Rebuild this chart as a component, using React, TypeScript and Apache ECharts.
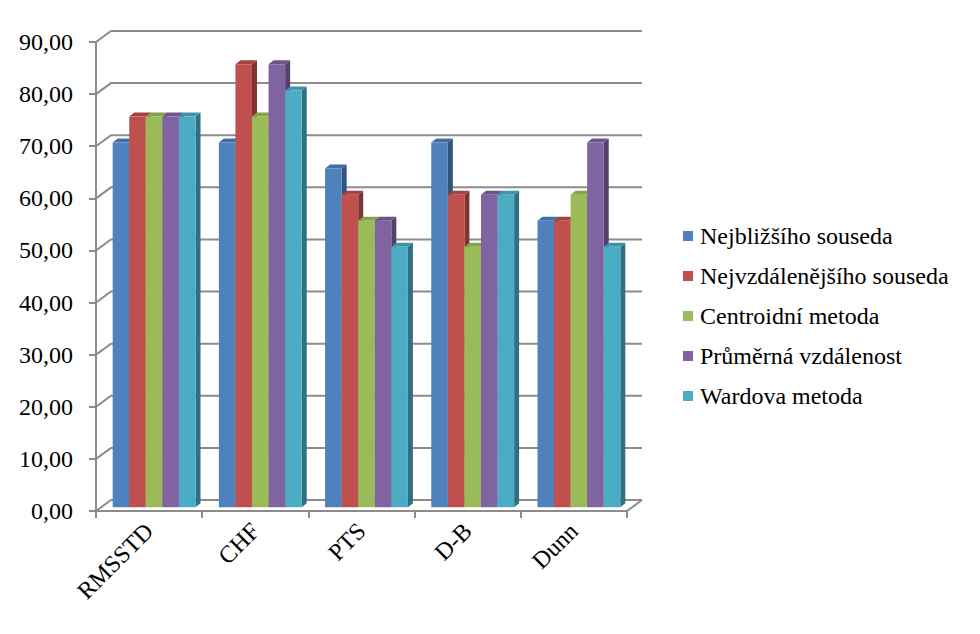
import React, { useEffect, useRef } from "react";
import * as echarts from "echarts";

const categories = ["RMSSTD", "CHF", "PTS", "D-B", "Dunn"];
const seriesNames = [
  "Nejbližšího souseda",
  "Nejvzdálenějšího souseda",
  "Centroidní metoda",
  "Průměrná vzdálenost",
  "Wardova metoda",
];
const nejblizsiSouseda = [70, 70, 65, 70, 55];
const nejvzdalenejsihoSouseda = [75, 85, 60, 60, 55];
const centroidniMetoda = [75, 75, 55, 50, 60];
const prumernaVzdalenost = [75, 85, 55, 60, 70];
const wardovaMetoda = [75, 80, 50, 60, 50];
const yTicks = [0, 10, 20, 30, 40, 50, 60, 70, 80, 90];

const seriesValues = [
  nejblizsiSouseda,
  nejvzdalenejsihoSouseda,
  centroidniMetoda,
  prumernaVzdalenost,
  wardovaMetoda,
];

const frontColors = ["#4F81BD", "#C0504D", "#9BBB59", "#8064A2", "#4BACC6"];
const topColors = ["#426ea3", "#a54341", "#86a24c", "#6d5589", "#4094aa"];
const sideColors = ["#33547b", "#7d3432", "#657a3a", "#534169", "#317081"];

const FONT = "Liberation Serif";
const LINE = "#8c8c8c";
const WALL_DX = 15;
const WALL_DY = -11;
const BAR_DX = 5;
const BAR_DY = -4;

export default function App() {
  const ref = useRef<HTMLDivElement>(null);

  useEffect(() => {
    if (!ref.current) return;
    const chart = echarts.init(ref.current, null, { renderer: "svg" });

    const frameSeries = {
      type: "custom",
      name: "frame",
      silent: true,
      clip: false,
      z: 1,
      data: yTicks.map((v) => [0, v]),
      encode: { x: 0, y: 1 },
      renderItem: (params: any, api: any) => {
        const v = api.value(1);
        const bw = api.size([1, 0])[0];
        const p0 = api.coord([0, v]);
        const p1 = api.coord([categories.length - 1, v]);
        const x0 = p0[0] - bw / 2;
        const x1 = p1[0] + bw / 2;
        const y = p0[1];
        const children: any[] = [
          {
            type: "polyline",
            shape: {
              points: [
                [x0, y],
                [x0 + WALL_DX, y + WALL_DY],
                [x1 + WALL_DX, y + WALL_DY],
              ],
            },
            style: { stroke: LINE, lineWidth: 2, fill: "none" },
          },
        ];
        if (v === 0) {
          children.push({
            type: "line",
            shape: { x1: x1, y1: y, x2: x1 + WALL_DX, y2: y + WALL_DY },
            style: { stroke: LINE, lineWidth: 2 },
          });
        }
        return { type: "group", children };
      },
    };

    const barSeries = seriesNames.map((name, k) => ({
      type: "custom",
      name,
      clip: false,
      z: 2,
      itemStyle: { color: frontColors[k] },
      data: seriesValues[k].map((v, i) => [i, v]),
      encode: { x: 0, y: 1 },
      renderItem: (params: any, api: any) => {
        const ci = api.value(0);
        const val = api.value(1);
        const top = api.coord([ci, val]);
        const base = api.coord([ci, 0]);
        const bw = api.size([1, 0])[0];
        const barW = bw * 0.156;
        const shiftX = bw * 0.047;
        const shiftY = -3.7;
        const x = top[0] + shiftX - 2.5 * barW + k * barW;
        const yTop = top[1] + shiftY;
        const yBot = base[1] + shiftY;
        return {
          type: "group",
          children: [
            {
              type: "polygon",
              shape: {
                points: [
                  [x + barW, yTop],
                  [x + barW + BAR_DX, yTop + BAR_DY],
                  [x + barW + BAR_DX, yBot + BAR_DY],
                  [x + barW, yBot],
                ],
              },
              style: { fill: sideColors[k] },
            },
            {
              type: "polygon",
              shape: {
                points: [
                  [x, yTop],
                  [x + BAR_DX, yTop + BAR_DY],
                  [x + barW + BAR_DX, yTop + BAR_DY],
                  [x + barW, yTop],
                ],
              },
              style: { fill: topColors[k] },
            },
            {
              type: "rect",
              shape: { x, y: yTop, width: barW, height: yBot - yTop },
              style: { fill: frontColors[k] },
            },
          ],
        };
      },
    }));

    chart.setOption({
      animation: false,
      backgroundColor: "#ffffff",
      textStyle: { fontFamily: FONT },
      grid: { left: 96, right: 353, top: 42, bottom: 123, containLabel: false },
      legend: {
        orient: "vertical",
        left: 683,
        top: 221,
        padding: 0,
        itemWidth: 10,
        itemHeight: 10,
        itemGap: 10,
        icon: "rect",
        data: seriesNames,
        textStyle: {
          fontFamily: FONT,
          fontSize: 24,
          color: "#000",
          lineHeight: 30,
          padding: [0, 0, 0, 2],
        },
      },
      xAxis: {
        type: "category",
        data: categories,
        boundaryGap: true,
        axisLine: { show: true, lineStyle: { color: LINE, width: 2 } },
        axisTick: {
          show: true,
          length: 7,
          alignWithLabel: false,
          lineStyle: { color: LINE, width: 2 },
        },
        axisLabel: {
          rotate: 45,
          margin: 16,
          fontSize: 24,
          fontFamily: FONT,
          color: "#000",
          interval: 0,
        },
        splitLine: { show: false },
      },
      yAxis: {
        type: "value",
        min: 0,
        max: 90,
        interval: 10,
        axisLine: { show: true, lineStyle: { color: LINE, width: 2 } },
        axisTick: { show: true, length: 7, lineStyle: { color: LINE, width: 2 } },
        axisLabel: {
          margin: 23,
          fontSize: 24,
          fontFamily: FONT,
          color: "#000",
          formatter: (v: number) => v.toFixed(2).replace(".", ","),
        },
        splitLine: { show: false },
      },
      series: [frameSeries, ...barSeries],
    });

    return () => chart.dispose();
  }, []);

  return (
    <div
      ref={ref}
      style={{ position: "fixed", left: 0, top: 0, width: 980, height: 634 }}
    />
  );
}
